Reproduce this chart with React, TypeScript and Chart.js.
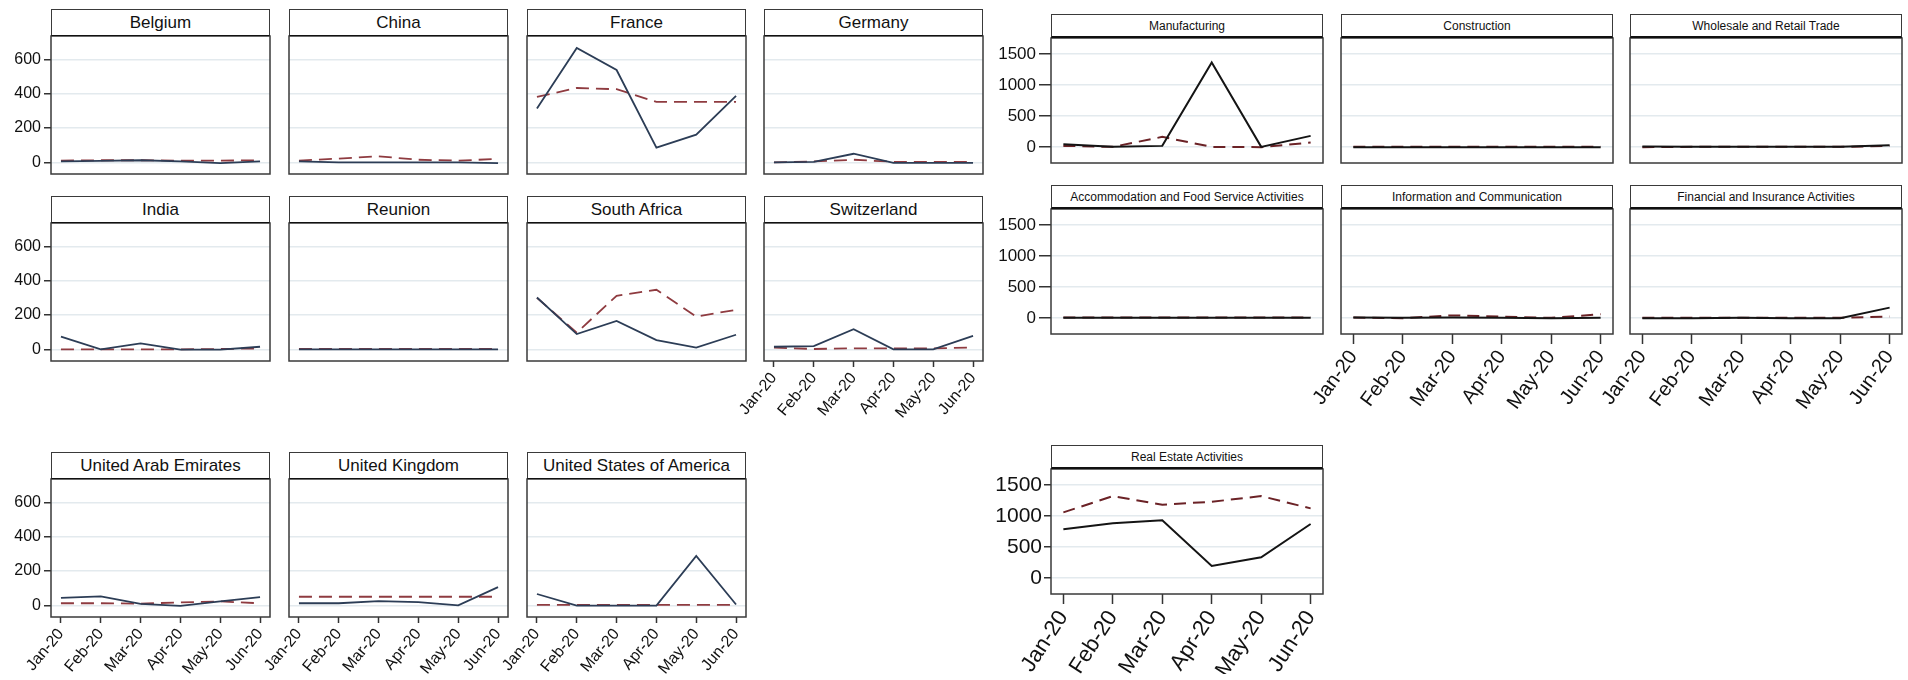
import React, { useEffect, useRef } from 'react';
import { Chart, registerables } from 'chart.js';
Chart.register(...registerables);

const months = ['Jan-20', 'Feb-20', 'Mar-20', 'Apr-20', 'May-20', 'Jun-20'];
const countryTicks = [0, 200, 400, 600];
const sectorTicks = [0, 500, 1000, 1500];

// Country panels: solid and dashed series
const belgiumSolid = [5, 8, 12, 5, -5, 5];
const belgiumDashed = [10, 12, 12, 10, 10, 12];
const chinaSolid = [5, 0, 0, 0, 0, -5];
const chinaDashed = [10, 22, 35, 15, 10, 20];
const franceSolid = [313, 666, 538, 86, 161, 387];
const franceDashed = [381, 433, 426, 352, 352, 352];
const germanySolid = [0, 3, 50, -3, -3, -3];
const germanyDashed = [0, 5, 15, 3, 3, 3];
const indiaSolid = [74, 0, 35, -2, -2, 15];
const indiaDashed = [0, 0, 0, 0, 2, 5];
const reunionSolid = [0, 0, 0, 0, 0, 0];
const reunionDashed = [3, 3, 3, 3, 3, 3];
const southAfricaSolid = [302, 89, 165, 54, 10, 85];
const southAfricaDashed = [300, 97, 312, 347, 191, 230];
const switzerlandSolid = [15, 19, 117, 0, 0, 78];
const switzerlandDashed = [10, 2, 6, 6, 6, 10];
const uaeSolid = [43, 52, 8, -3, 23, 48];
const uaeDashed = [12, 12, 10, 17, 23, 12];
const ukSolid = [12, 12, 25, 19, 0, 106];
const ukDashed = [50, 50, 50, 50, 50, 50];
const usaSolid = [66, -2, -2, -2, 288, 5];
const usaDashed = [3, 3, 3, 3, 3, 3];

// Sector panels
const manufacturingSolid = [48, 5, 21, 1366, 5, 182];
const manufacturingDashed = [21, 5, 166, 5, 0, 75];
const constructionSolid = [0, 0, 0, 0, 0, 0];
const constructionDashed = [5, 5, 5, 5, 5, 5];
const wholesaleSolid = [10, 5, 5, 5, 8, 30];
const wholesaleDashed = [0, 5, 5, 5, 5, 20];
const accommodationSolid = [8, 8, 8, 8, 8, 8];
const accommodationDashed = [10, 10, 10, 10, 10, 10];
const informationSolid = [10, 5, 10, 5, 0, 5];
const informationDashed = [10, 0, 45, 25, 5, 64];
const financialSolid = [0, 0, 5, 0, 0, 170];
const financialDashed = [5, 5, 5, 5, 5, 26];
const realEstateSolid = [788, 884, 932, 198, 338, 873];
const realEstateDashed = [1061, 1323, 1185, 1232, 1323, 1125];

const FONT = "'Liberation Sans', Arial, sans-serif";

const borderPlugin = {
  id: 'plotBorder',
  afterDraw(chart: any) {
    const { ctx, chartArea: a } = chart;
    ctx.save();
    ctx.strokeStyle = '#3a3a3a';
    ctx.lineWidth = 1.5;
    ctx.strokeRect(a.left, a.top, a.right - a.left, a.bottom - a.top);
    ctx.restore();
  },
};

type PanelCfg = {
  title: string;
  solid: number[];
  dashed: number[];
  plotLeft: number;
  top: number;
  plotW: number;
  headerH: number;
  plotH: number;
  showX: boolean;
  showY: boolean;
  yAxisW: number;
  xAxisH: number;
  yMin: number;
  yMax: number;
  yTicks: number[];
  titleFont: number;
  yFont: number;
  xFont: number;
  xRot: number;
  yTickLen: number;
  yPad: number;
  xTickLen: number;
  solidColor: string;
  dashColor: string;
  lw: number;
  dash: number[];
  headerLine: number;
};

const PADL = 80, PADR = 24, PADT = 24, PADB = 24;

function Panel({ c }: { c: PanelCfg }) {
  const ref = useRef<HTMLCanvasElement | null>(null);
  const yW = c.showY ? c.yAxisW : 0;
  const xH = c.showX ? c.xAxisH : 0;
  const cw = PADL + yW + c.plotW + PADR;
  const ch = PADT + c.plotH + xH + PADB;
  const headerBottom = c.top + c.headerH;
  const canvasLeft = c.plotLeft - yW - PADL;
  const canvasTop = headerBottom - PADT;

  useEffect(() => {
    if (!ref.current) return;
    const chart = new Chart(ref.current, {
      type: 'line',
      data: {
        datasets: [
          {
            data: c.solid.map((v, i) => ({ x: i, y: v })),
            borderColor: c.solidColor,
            borderWidth: c.lw,
            pointRadius: 0,
            tension: 0,
            fill: false,
          },
          {
            data: c.dashed.map((v, i) => ({ x: i, y: v })),
            borderColor: c.dashColor,
            borderWidth: c.lw,
            borderDash: c.dash,
            pointRadius: 0,
            tension: 0,
            fill: false,
          },
        ],
      },
      options: {
        responsive: false,
        animation: false,
        layout: { padding: { left: PADL, right: PADR, top: PADT, bottom: PADB } },
        plugins: { legend: { display: false }, tooltip: { enabled: false } },
        scales: {
          x: {
            type: 'linear',
            bounds: 'data',
            min: -0.25,
            max: 5.25,
            display: c.showX,
            afterBuildTicks: (s: any) => {
              s.ticks = months.map((_, i) => ({ value: i }));
            },
            ticks: {
              callback: (v: any) => months[v as number] ?? '',
              autoSkip: false,
              minRotation: c.xRot,
              maxRotation: c.xRot,
              padding: 2,
              color: '#111',
              font: { family: FONT, size: c.xFont },
            },
            grid: {
              drawOnChartArea: false,
              drawTicks: true,
              tickLength: c.xTickLen,
              tickColor: '#333',
              tickWidth: 1.5,
            },
            border: { display: false },
            afterFit: (s: any) => {
              s.height = xH;
            },
          },
          y: {
            type: 'linear',
            bounds: 'data',
            min: c.yMin,
            max: c.yMax,
            afterBuildTicks: (s: any) => {
              s.ticks = c.yTicks.map((v) => ({ value: v }));
            },
            ticks: {
              display: c.showY,
              padding: c.yPad,
              color: '#111',
              callback: (v: any) => String(v),
              font: { family: FONT, size: c.yFont },
            },
            grid: {
              color: '#e3eaee',
              lineWidth: 1.5,
              drawTicks: c.showY,
              tickLength: c.yTickLen,
              tickColor: '#333',
              tickWidth: 1.5,
            },
            border: { display: false },
            afterFit: (s: any) => {
              s.width = yW;
            },
          },
        },
      } as any,
      plugins: [borderPlugin],
    });
    return () => chart.destroy();
  }, []);

  return (
    <>
      <canvas
        ref={ref}
        width={cw}
        height={ch}
        style={{ position: 'absolute', left: canvasLeft, top: canvasTop, width: cw, height: ch }}
      />
      <div
        style={{
          position: 'absolute',
          left: c.plotLeft,
          top: c.top,
          width: c.plotW,
          height: c.headerH,
          boxSizing: 'border-box',
          border: '1.5px solid #3a3a3a',
          borderBottom: `${c.headerLine}px solid #111`,
          background: '#fff',
          display: 'flex',
          alignItems: 'center',
          justifyContent: 'center',
          fontFamily: FONT,
          fontSize: c.titleFont,
          color: '#111',
          whiteSpace: 'nowrap',
          overflow: 'hidden',
        }}
      >
        {c.title}
      </div>
    </>
  );
}

const countryBase = {
  plotW: 219,
  headerH: 27,
  plotH: 138,
  yAxisW: 51,
  xAxisH: 60,
  yMin: -68,
  yMax: 736,
  yTicks: countryTicks,
  titleFont: 17,
  yFont: 16,
  xFont: 16,
  xRot: 50,
  yTickLen: 7,
  yPad: 3,
  xTickLen: 6,
  solidColor: '#2c3d56',
  dashColor: '#8f3b40',
  lw: 1.8,
  dash: [13, 7],
  headerLine: 1,
};

const sectorBase = {
  plotW: 272,
  headerH: 24,
  plotH: 125,
  yAxisW: 60,
  xAxisH: 80,
  yMin: -255,
  yMax: 1760,
  yTicks: sectorTicks,
  titleFont: 12,
  yFont: 17,
  xFont: 20,
  xRot: 54,
  yTickLen: 12,
  yPad: 3,
  xTickLen: 10,
  solidColor: '#141414',
  dashColor: '#6b2226',
  lw: 2,
  dash: [12, 7],
  headerLine: 2,
};

const cCols = [51, 289, 527, 764];
const cRows = [9, 196, 452];
const sCols = [1051, 1341, 1630];
const sRows = [14, 185];

const panels: PanelCfg[] = [
  { ...countryBase, title: 'Belgium', solid: belgiumSolid, dashed: belgiumDashed, plotLeft: cCols[0], top: cRows[0], showX: false, showY: true },
  { ...countryBase, title: 'China', solid: chinaSolid, dashed: chinaDashed, plotLeft: cCols[1], top: cRows[0], showX: false, showY: false },
  { ...countryBase, title: 'France', solid: franceSolid, dashed: franceDashed, plotLeft: cCols[2], top: cRows[0], showX: false, showY: false },
  { ...countryBase, title: 'Germany', solid: germanySolid, dashed: germanyDashed, plotLeft: cCols[3], top: cRows[0], showX: false, showY: false },
  { ...countryBase, title: 'India', solid: indiaSolid, dashed: indiaDashed, plotLeft: cCols[0], top: cRows[1], showX: false, showY: true },
  { ...countryBase, title: 'Reunion', solid: reunionSolid, dashed: reunionDashed, plotLeft: cCols[1], top: cRows[1], showX: false, showY: false },
  { ...countryBase, title: 'South Africa', solid: southAfricaSolid, dashed: southAfricaDashed, plotLeft: cCols[2], top: cRows[1], showX: false, showY: false },
  { ...countryBase, title: 'Switzerland', solid: switzerlandSolid, dashed: switzerlandDashed, plotLeft: cCols[3], top: cRows[1], showX: true, showY: false },
  { ...countryBase, title: 'United Arab Emirates', solid: uaeSolid, dashed: uaeDashed, plotLeft: cCols[0], top: cRows[2], showX: true, showY: true },
  { ...countryBase, title: 'United Kingdom', solid: ukSolid, dashed: ukDashed, plotLeft: cCols[1], top: cRows[2], showX: true, showY: false },
  { ...countryBase, title: 'United States of America', solid: usaSolid, dashed: usaDashed, plotLeft: cCols[2], top: cRows[2], showX: true, showY: false },
  { ...sectorBase, title: 'Manufacturing', solid: manufacturingSolid, dashed: manufacturingDashed, plotLeft: sCols[0], top: sRows[0], showX: false, showY: true },
  { ...sectorBase, title: 'Construction', solid: constructionSolid, dashed: constructionDashed, plotLeft: sCols[1], top: sRows[0], showX: false, showY: false },
  { ...sectorBase, title: 'Wholesale and Retail Trade', solid: wholesaleSolid, dashed: wholesaleDashed, plotLeft: sCols[2], top: sRows[0], showX: false, showY: false },
  { ...sectorBase, title: 'Accommodation and Food Service Activities', solid: accommodationSolid, dashed: accommodationDashed, plotLeft: sCols[0], top: sRows[1], showX: false, showY: true },
  { ...sectorBase, title: 'Information and Communication', solid: informationSolid, dashed: informationDashed, plotLeft: sCols[1], top: sRows[1], showX: true, showY: false },
  { ...sectorBase, title: 'Financial and Insurance Activities', solid: financialSolid, dashed: financialDashed, plotLeft: sCols[2], top: sRows[1], showX: true, showY: false },
  { ...sectorBase, title: 'Real Estate Activities', solid: realEstateSolid, dashed: realEstateDashed, plotLeft: sCols[0], top: 445, showX: true, showY: true, yFont: 21, xFont: 22, xRot: 57, yTickLen: 7, yPad: 2, yAxisW: 60 },
];

export default function App() {
  return (
    <div style={{ position: 'absolute', left: 0, top: 0, width: 1908, height: 680, background: '#fff', overflow: 'hidden' }}>
      {panels.map((p) => (
        <Panel key={p.title} c={p} />
      ))}
    </div>
  );
}
